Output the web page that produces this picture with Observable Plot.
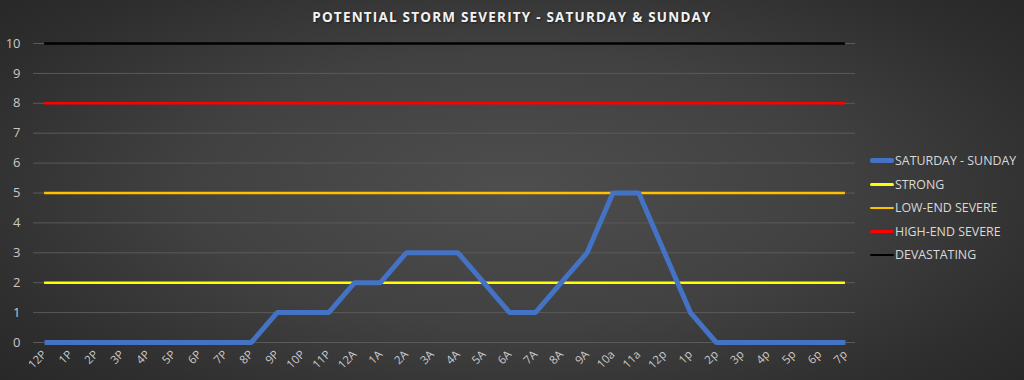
<!DOCTYPE html>
<html>
<head>
<meta charset="utf-8">
<script src="https://cdn.jsdelivr.net/npm/d3@7"></script>
<script src="https://cdn.jsdelivr.net/npm/@observablehq/plot@0.6"></script>
<style>
  html, body { margin: 0; padding: 0; }
  #wrap {
    position: relative; width: 1024px; height: 380px; overflow: hidden;
    background: radial-gradient(ellipse 70% 80% at 50% 50%, #4e4e4e 0%, #414141 45%, #2e2e2e 80%, #262626 100%);
    font-family: "Open Sans", "Noto Sans", sans-serif;
  }
  #title {
    position: absolute; top: 8px; left: 0; width: 1024px; text-align: center;
    color: #f2f2f2; font-weight: bold; font-size: 13.5px; letter-spacing: 1.2px;
    text-shadow: 1px 1px 2px rgba(0,0,0,0.5);
  }
  #legend { position: absolute; left: 870px; top: 149px; color: #d9d9d9; font-size: 12.4px; }
  .item { height: 23.5px; display: flex; align-items: center; }
  .sw { width: 24px; margin-right: 1px; border-radius: 2px; }
  svg { position: absolute; left: 0; top: 0; background: transparent; }
</style>
</head>
<body>
<div id="wrap">
  <div id="title">POTENTIAL STORM SEVERITY - SATURDAY &amp; SUNDAY</div>
  <div id="legend"></div>
</div>
<script>
const hours = ["12P","1P","2P","3P","4P","5P","6P","7P","8P","9P","10P","11P",
  "12A","1A","2A","3A","4A","5A","6A","7A","8A","9A","10a","11a",
  "12p","1p","2p","3p","4p","5p","6p","7p"];
const severity = [0,0,0,0,0,0,0,0,0,1,1,1,2,2,3,3,3,2,1,1,2,3,5,5,3,1,0,0,0,0,0,0];
const thresholdNames = ["STRONG","LOW-END SEVERE","HIGH-END SEVERE","DEVASTATING"];
const thresholdValues = [2,5,8,10];
const thresholdColors = ["#ffff00","#ffc000","#ff0000","#000000"];
const seriesName = "SATURDAY - SUNDAY";
const seriesColor = "#4472c4";
const yTicks = [0,1,2,3,4,5,6,7,8,9,10];

const idx = hours.map((h, i) => i);
const data = hours.map((h, i) => ({i, hour: h, value: severity[i]}));
const thresholds = thresholdNames.map((n, i) => ({name: n, value: thresholdValues[i], color: thresholdColors[i]}));
const last = hours.length - 1;

const chart = Plot.plot({
  width: 1024, height: 380,
  marginLeft: 33, marginRight: 169, marginTop: 43, marginBottom: 38,
  style: {background: "transparent", fontFamily: "'Open Sans', sans-serif"},
  x: {type: "linear", domain: [-0.43, last + 0.39], label: null},
  y: {domain: [0, 10], label: null},
  marks: [
    Plot.ruleY(yTicks, {stroke: "#5a5a5a", strokeWidth: 1}),
    Plot.axisY({ticks: yTicks, tickSize: 0, tickPadding: 13, fill: "#c8c8c8", fontSize: 13, label: null}),
    Plot.axisX({ticks: idx, tickFormat: i => hours[i], tickSize: 0, tickRotate: -45, tickPadding: 10, fill: "#c8c8c8", fontSize: 11.5, label: null}),
    Plot.ruleY(thresholds, {y: "value", x1: () => 0, x2: () => last, stroke: d => d.color, strokeWidth: 2.5}),
    Plot.line(data, {x: "i", y: "value", stroke: seriesColor, strokeWidth: 5, strokeLinejoin: "miter", strokeLinecap: "butt"})
  ]
});
document.getElementById("wrap").appendChild(chart);

const legend = document.getElementById("legend");
const items = [{name: seriesName, color: seriesColor, w: 5}]
  .concat(thresholds.map(t => ({name: t.name, color: t.color, w: 2.5})));
for (const it of items) {
  const d = document.createElement("div");
  d.className = "item";
  const s = document.createElement("div");
  s.className = "sw";
  s.style.height = it.w + "px";
  s.style.background = it.color;
  const t = document.createElement("span");
  t.textContent = it.name;
  d.appendChild(s); d.appendChild(t);
  legend.appendChild(d);
}
</script>
</body>
</html>
